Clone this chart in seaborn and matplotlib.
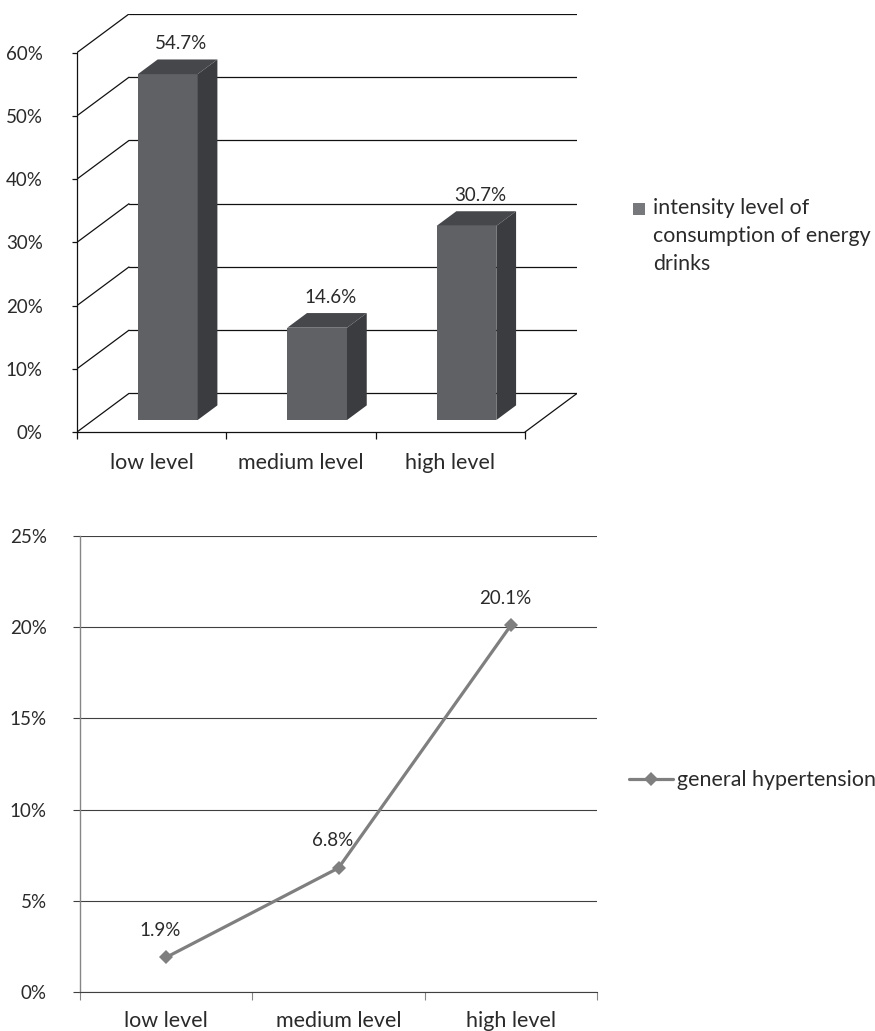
import matplotlib
matplotlib.use("Agg")
import matplotlib.pyplot as plt
from matplotlib.patches import Polygon, Rectangle
import pandas as pd
import seaborn as sns

# ---- data -------------------------------------------------------------
categories = ["low level", "medium level", "high level"]
consumption = [54.7, 14.6, 30.7]
hypertension = [1.9, 6.8, 20.1]
consumption_ticks = [0, 10, 20, 30, 40, 50, 60]
hypertension_ticks = [0, 5, 10, 15, 20, 25]
consumption_label = "intensity level of\nconsumption of energy\ndrinks"
hypertension_label = "general hypertension"

# ---- style ------------------------------------------------------------
sns.set_theme(style="white")
plt.rcParams["font.family"] = ["Lato", "DejaVu Sans"]
TEXT = "#2a2a2a"
plt.rcParams["text.color"] = TEXT
plt.rcParams["xtick.color"] = TEXT
plt.rcParams["ytick.color"] = TEXT
FS = 13.5        # tick and value labels
CAT_FS = 15.5    # category labels
LEG_FS = 15.4    # legend text

W, H = 875, 1031
fig = plt.figure(figsize=(W / 100, H / 100), dpi=100)


def px_axes(left, top, right, bottom):
    return fig.add_axes([left / W, 1 - bottom / H, (right - left) / W, (bottom - top) / H])


# ---- 3-D style column chart --------------------------------------------
DX, DY = 0.348, 6.1          # depth offset of the back wall (x units, %)
BAR_FRONT, BAR_DEPTH = 0.31, 0.38
FRONT_C, SIDE_C, TOP_C = "#606165", "#3a3c3f", "#46474b"
LINE_C = "#111111"

ax1 = px_axes(77, 14, 577, 432)
df1 = pd.DataFrame({"level": categories, "share": consumption})
sns.barplot(data=df1, x="level", y="share", width=0.4, color=FRONT_C,
            saturation=1, linewidth=0, ax=ax1, zorder=3)

ax1.set_xlim(-0.5, 2.5 + DX)
ax1.set_ylim(0, consumption_ticks[-1] + DY)

# side wall diagonals and back-wall gridlines
for t in consumption_ticks:
    ax1.plot([-0.5, -0.5 + DX], [t, t + DY], color=LINE_C, lw=0.9, zorder=1)
    ax1.plot([-0.5 + DX, 2.5 + DX], [t + DY, t + DY], color=LINE_C, lw=0.9, zorder=1)
# floor edge on the right
ax1.plot([2.5, 2.5 + DX], [0, DY], color=LINE_C, lw=0.9, zorder=1)

# extrude each column: move face into the depth, add side and top faces
ox, oy = BAR_DEPTH * DX, BAR_DEPTH * DY
for bar in ax1.patches[:len(consumption)]:
    bar.set_x(bar.get_x() + BAR_FRONT * DX)
    bar.set_y(bar.get_y() + BAR_FRONT * DY)
    x0, y0 = bar.get_x(), bar.get_y()
    w, h = bar.get_width(), bar.get_height()
    side = [(x0 + w, y0), (x0 + w + ox, y0 + oy), (x0 + w + ox, y0 + h + oy), (x0 + w, y0 + h)]
    top = [(x0, y0 + h), (x0 + w, y0 + h), (x0 + w + ox, y0 + h + oy), (x0 + ox, y0 + h + oy)]
    ax1.add_patch(Polygon(side, closed=True, facecolor=SIDE_C, edgecolor="none", zorder=3))
    ax1.add_patch(Polygon(top, closed=True, facecolor=TOP_C, edgecolor="none", zorder=3))

for i, v in enumerate(consumption):
    ax1.text(i + BAR_FRONT * DX + 0.09, v + BAR_FRONT * DY + 4.8, f"{v}%",
             ha="center", va="center", fontsize=FS, zorder=5)

for side in ("top", "right"):
    ax1.spines[side].set_visible(False)
ax1.spines["left"].set_bounds(0, consumption_ticks[-1])
ax1.spines["bottom"].set_bounds(-0.5, 2.5)
for side in ("left", "bottom"):
    ax1.spines[side].set_color(LINE_C)
    ax1.spines[side].set_linewidth(0.9)

ax1.set_yticks(consumption_ticks, labels=[f"{t}%" for t in consumption_ticks])
ax1.set_xticks(range(len(categories)), labels=categories)
ax1.set_xticks([-0.5, 0.5, 1.5, 2.5], minor=True)
ax1.tick_params(axis="y", left=True, length=3.6, width=0.9, color=LINE_C,
                pad=21, labelsize=FS)
ax1.tick_params(axis="x", which="major", bottom=True, length=0, pad=15, labelsize=CAT_FS)
ax1.tick_params(axis="x", which="minor", bottom=True, length=5, width=0.9, color=LINE_C)
ax1.set_xlabel("")
ax1.set_ylabel("")

# legend of the column chart
fig.patches.append(Rectangle((633 / W, 1 - 215 / H), 12 / W, 12 / H,
                             transform=fig.transFigure, facecolor="#77787c",
                             edgecolor="none"))
fig.text(653 / W, 1 - 198 / H, consumption_label, ha="left", va="top",
         fontsize=LEG_FS, linespacing=1.5)

# ---- line chart ---------------------------------------------------------
GRID_C = "#404040"
SER_C = "#7f7f7f"
ax2 = px_axes(80, 536, 597, 992)
sns.lineplot(x=categories, y=hypertension, sort=False, color=SER_C, lw=2.3,
             marker="D", markersize=7, markeredgewidth=0, ax=ax2,
             label=hypertension_label, zorder=4)
ax2.set_xlim(-0.5, 2.5)
ax2.set_ylim(0, hypertension_ticks[-1])
ax2.set_yticks(hypertension_ticks, labels=[f"{t}%" for t in hypertension_ticks])
ax2.set_xticks(range(len(categories)), labels=categories)
ax2.set_xticks([-0.5, 0.5, 1.5, 2.5], minor=True)
ax2.yaxis.grid(True, color=GRID_C, lw=0.8)
ax2.set_axisbelow(True)
for side in ("top", "right"):
    ax2.spines[side].set_visible(False)
ax2.spines["left"].set_color("#868686")
ax2.spines["left"].set_linewidth(1.0)
ax2.spines["bottom"].set_color(GRID_C)
ax2.spines["bottom"].set_linewidth(0.8)
ax2.tick_params(axis="y", left=True, length=5, width=0.8, color=GRID_C,
                pad=19, labelsize=FS)
ax2.tick_params(axis="x", which="major", bottom=True, length=0, pad=14, labelsize=CAT_FS)
ax2.tick_params(axis="x", which="minor", bottom=True, length=6, width=0.8, color="#868686")
ax2.set_xlabel("")
ax2.set_ylabel("")

for i, v in enumerate(hypertension):
    ax2.annotate(f"{v}%", (i, v), xytext=(-6, 27), textcoords="offset pixels",
                 ha="center", va="center", fontsize=FS)

ax2.legend(loc="center left", bbox_to_anchor=((629 - 80) / 517, (992 - 780) / 456),
           frameon=False, fontsize=LEG_FS, handlelength=2.05, handletextpad=0.2,
           borderpad=0, borderaxespad=0)

fig.savefig("out.png", dpi=100)
